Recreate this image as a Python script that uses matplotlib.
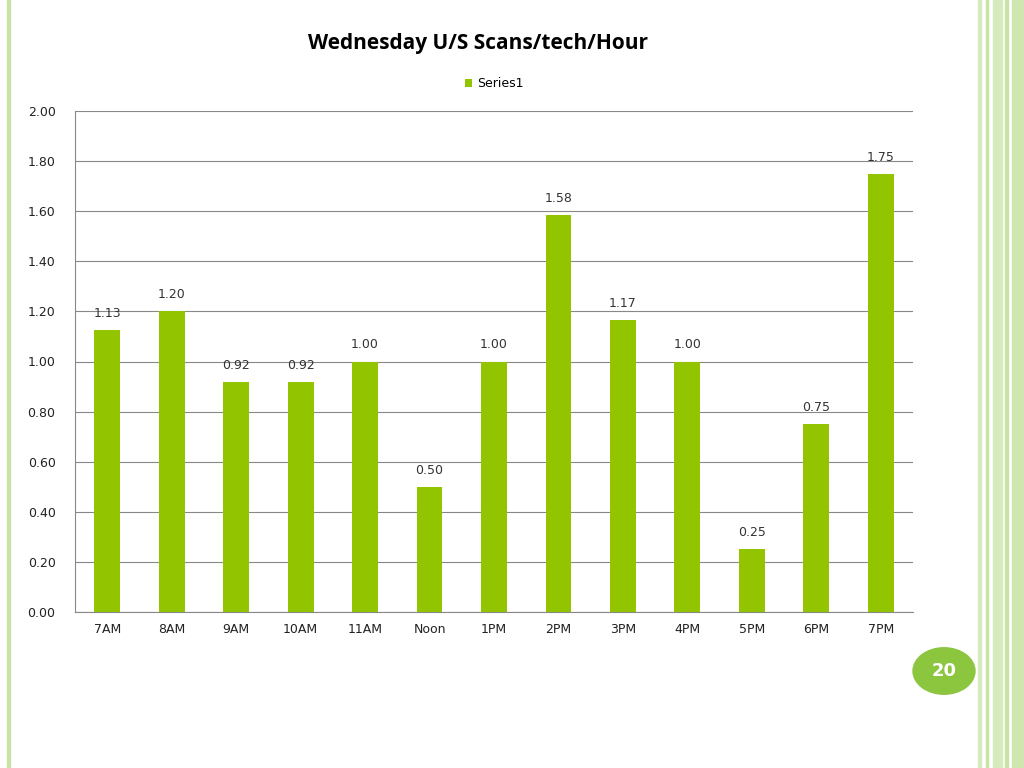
import matplotlib.pyplot as plt
from matplotlib.patches import Rectangle, Circle

hours = ["7AM", "8AM", "9AM", "10AM", "11AM", "Noon", "1PM", "2PM", "3PM", "4PM", "5PM", "6PM", "7PM"]
scans = [1.125, 1.20, 0.917, 0.917, 1.00, 0.50, 1.00, 1.583, 1.167, 1.00, 0.25, 0.75, 1.75]
labels = ["1.13", "1.20", "0.92", "0.92", "1.00", "0.50", "1.00", "1.58", "1.17", "1.00", "0.25", "0.75", "1.75"]

W, H = 1024, 768
fig = plt.figure(figsize=(W / 100, H / 100), dpi=100)

# slide decorations
fig.patches.append(Rectangle((7 / W, 0), 3 / W, 1, transform=fig.transFigure, color="#c9e3a6"))
for x0, w, c in [(978, 3, "#d6eabd"), (986, 2, "#c9e3a6"), (993, 9, "#d6eabd"), (1005, 3, "#c9e3a6"), (1012, 12, "#cfe6b0")]:
    fig.patches.append(Rectangle((x0 / W, 0), w / W, 1, transform=fig.transFigure, color=c))
fig.patches.append(Circle((944 / W, 1 - 671 / H), 31 / W, transform=fig.transFigure, color="#8cc63f"))
fig.text(944 / W, 1 - 671 / H, "20", ha="center", va="center", color="white", fontsize=13, fontweight="bold")

ax = fig.add_axes([75 / W, 1 - 612 / H, (913 - 75) / W, (612 - 111) / H])
bars = ax.bar(hours, scans, width=0.4, color="#92c400", label="Series1", zorder=3)
for bar, lab in zip(bars, labels):
    ax.text(bar.get_x() + bar.get_width() / 2, bar.get_height() + 0.04, lab,
            ha="center", va="bottom", fontsize=9, color="#333333")

ax.set_ylim(0, 2)
ax.set_xlim(-0.5, len(hours) - 0.5)
ax.set_yticks([i * 0.2 for i in range(11)])
ax.set_yticklabels([f"{i * 0.2:.2f}" for i in range(11)])
ax.yaxis.grid(True, color="#888888", linewidth=0.8, zorder=0)
ax.tick_params(axis="both", length=0, labelsize=9, colors="#222222")
ax.tick_params(axis="y", pad=14)
ax.tick_params(axis="x", pad=8)
for s in ["top", "right"]:
    ax.spines[s].set_visible(False)
ax.spines["left"].set_color("#888888")
ax.spines["bottom"].set_color("#888888")

fig.text(478 / W, 1 - 44 / H, "Wednesday U/S Scans/tech/Hour", ha="center", va="center",
         fontsize=15, fontweight="bold", family="Open Sans")
ax.legend(loc="upper center", bbox_to_anchor=(0.5, 1.09), frameon=False, fontsize=9,
          handlelength=0.6, handleheight=0.6, handletextpad=0.4)

fig.savefig("out.png", dpi=100)
